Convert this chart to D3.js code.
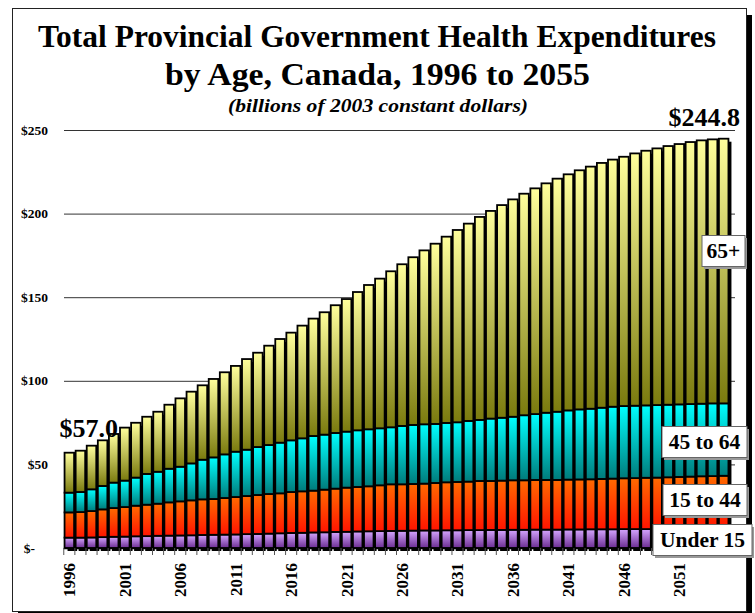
<!DOCTYPE html>
<html><head><meta charset="utf-8">
<script src="https://cdn.jsdelivr.net/npm/d3@7"></script>
<style>
html,body{margin:0;padding:0;background:#fff;}
svg{display:block;font-family:"Liberation Serif","Times New Roman",serif;}
</style></head>
<body>
<svg id="chart" width="755" height="613"></svg>
<script>
const years = [1996,1997,1998,1999,2000,2001,2002,2003,2004,2005,2006,2007,2008,2009,2010,2011,2012,2013,2014,2015,
2016,2017,2018,2019,2020,2021,2022,2023,2024,2025,2026,2027,2028,2029,2030,2031,2032,2033,2034,2035,
2036,2037,2038,2039,2040,2041,2042,2043,2044,2045,2046,2047,2048,2049,2050,2051,2052,2053,2054,2055];

const under15 = [6.2,6.2,6.3,6.5,6.7,6.8,7.0,7.1,7.3,7.4,7.5,7.6,7.8,7.9,8.0,8.1,8.3,8.4,8.6,8.8,
9.0,9.1,9.3,9.4,9.6,9.7,9.9,10.0,10.1,10.2,10.3,10.4,10.5,10.5,10.6,10.6,10.7,10.7,10.8,10.8,
10.9,10.9,11.0,11.0,11.0,11.1,11.1,11.2,11.2,11.2,11.3,11.3,11.3,11.4,11.4,11.4,11.4,11.5,11.5,11.5];

const age15to44 = [15.1,15.3,15.8,16.6,17.2,17.7,18.3,18.8,19.2,19.9,20.4,20.9,21.3,21.4,21.9,22.4,22.8,23.3,23.7,23.9,
24.5,24.8,25.0,25.5,25.9,26.4,26.6,26.9,27.4,27.9,27.8,27.9,28.0,28.4,28.7,28.9,29.0,29.4,29.3,29.5,
29.6,29.6,29.7,29.7,29.7,29.8,29.9,29.9,30.1,30.3,30.4,30.5,30.7,30.7,30.9,31.1,31.3,31.4,31.5,31.7];

const age45to64 = [11.8,12.0,13.0,14.0,15.2,15.8,16.8,18.4,19.1,20.1,20.7,22.1,23.7,24.9,26.1,27.1,27.7,28.7,29.3,30.3,
30.9,31.7,32.7,32.9,33.3,33.5,33.9,34.1,34.1,34.1,34.9,35.3,35.5,35.3,35.5,35.7,36.3,36.5,37.3,37.6,
38.0,38.9,39.4,40.2,40.8,41.4,41.9,42.2,42.6,43.0,43.2,43.3,43.3,43.4,43.4,43.4,43.4,43.4,43.5,43.3];

const age65plus = [23.9,24.7,26.1,27.3,29.1,31.7,32.8,34.2,35.9,38.3,40.9,42.9,44.5,46.9,49.1,51.3,54.2,56.4,59.4,62.0,
64.4,67.4,70.2,73.2,76.4,79.3,82.7,86.3,89.5,93.3,96.7,100.3,104.0,107.8,111.4,115.0,118.0,121.4,124.2,127.2,
130.0,132.5,135.0,137.2,139.4,141.2,143.0,144.8,146.4,147.8,149.1,150.9,152.3,153.5,154.7,155.7,156.7,157.5,157.9,158.3];

const seriesNames = ["Under 15","15 to 44","45 to 64","65+"];
const yTickValues = [0,50,100,150,200,250];
const yTickLabels = ["$-","$50","$100","$150","$200","$250"];
const xTickLabels = ["1996","2001","2006","2011","2016","2021","2026","2031","2036","2041","2046","2051"];
const firstLabel = "$57.0";
const lastLabel = "$244.8";

const svg = d3.select("#chart");

const keys = ["u15","a1544","a4564","a65"];
const table = years.map((yr,i)=>({year:yr,u15:under15[i],a1544:age15to44[i],a4564:age45to64[i],a65:age65plus[i]}));
const stacked = d3.stack().keys(keys)(table);

const x = d3.scaleBand().domain(years).range([64,729]).paddingInner(0.14).paddingOuter(0.05);
const y = d3.scaleLinear().domain([0,250]).range([548,130]);

const defs = svg.append("defs");
const grads = [
  {id:"g0", top:"#D6A6FF", bot:"#6A2C91"},
  {id:"g1", top:"#FF6A00", bot:"#FF1400"},
  {id:"g2", top:"#00FFFF", bot:"#007B7B"},
  {id:"g3", top:"#FFFF9C", bot:"#7A7A0E"}
];
grads.forEach(g=>{
  const lg = defs.append("linearGradient").attr("id",g.id).attr("x1",0).attr("y1",0).attr("x2",0).attr("y2",1);
  lg.append("stop").attr("offset","0%").attr("stop-color",g.top);
  lg.append("stop").attr("offset","100%").attr("stop-color",g.bot);
});

// frame with shadow
svg.append("rect").attr("x",18).attr("y",15).attr("width",734).attr("height",602).attr("fill","#000");
svg.append("rect").attr("x",12.5).attr("y",8.5).attr("width",734).attr("height",603)
  .attr("fill","#fff").attr("stroke","#222").attr("stroke-width",1);

// gridlines
svg.append("g").selectAll("line").data(yTickValues.filter(v=>v>0)).join("line")
  .attr("x1",64).attr("x2",735).attr("y1",d=>y(d)+0.5).attr("y2",d=>y(d)+0.5)
  .attr("stroke","#333").attr("stroke-width",1);

// y labels
svg.append("g").selectAll("text").data(yTickValues).join("text")
  .attr("x",d=> d===0 ? 35 : 48)
  .attr("y",d=>y(d)+4.5)
  .attr("text-anchor","end")
  .attr("font-size",13.5).attr("font-weight","bold")
  .text((d,i)=>yTickLabels[i]);

// shadows behind bars
const totals = years.map((yr,i)=>under15[i]+age15to44[i]+age45to64[i]+age65plus[i]);
svg.append("g").selectAll("rect").data(years).join("rect")
  .attr("x",d=>x(d)+3).attr("width",x.bandwidth())
  .attr("y",(d,i)=>y(totals[i])+3).attr("height",(d,i)=>y(0)-y(totals[i]))
  .attr("fill","#000");

// bars
svg.append("g").selectAll("g").data(stacked).join("g")
  .attr("fill",(d,i)=>`url(#g${i})`)
  .selectAll("rect").data(d=>d).join("rect")
  .attr("x",d=>x(d.data.year)).attr("width",x.bandwidth())
  .attr("y",d=>y(d[1])).attr("height",d=>y(d[0])-y(d[1]))
  .attr("stroke","#000").attr("stroke-width",1.8);

// x axis baseline and ticks
const tickXs = years.map(yr=>x(yr)-x.step()*x.paddingInner()/2);
tickXs.push(x(years[years.length-1])+x.bandwidth()+x.step()*x.paddingInner()/2);
svg.append("line").attr("x1",tickXs[0]).attr("x2",tickXs[tickXs.length-1]).attr("y1",548.5).attr("y2",548.5)
  .attr("stroke","#000").attr("stroke-width",1.5);
svg.append("g").selectAll("line").data(tickXs).join("line")
  .attr("x1",d=>d).attr("x2",d=>d).attr("y1",548).attr("y2",555)
  .attr("stroke","#555").attr("stroke-width",1);

// x labels
svg.append("g").selectAll("text").data(xTickLabels).join("text")
  .attr("transform",d=>`translate(${x(+d)+x.bandwidth()/2+6},563) rotate(-90)`)
  .attr("text-anchor","end")
  .attr("font-size",17).attr("font-weight","bold")
  .text(d=>d);

// titles
svg.append("text").attr("x",377).attr("y",47).attr("text-anchor","middle")
  .attr("font-size",32).attr("font-weight","bold")
  .attr("textLength",678).attr("lengthAdjust","spacingAndGlyphs")
  .text("Total Provincial Government Health Expenditures");
svg.append("text").attr("x",377.5).attr("y",85).attr("text-anchor","middle")
  .attr("font-size",32).attr("font-weight","bold")
  .attr("textLength",425).attr("lengthAdjust","spacingAndGlyphs")
  .text("by Age, Canada, 1996 to 2055");
svg.append("text").attr("x",378).attr("y",112).attr("text-anchor","middle")
  .attr("font-size",18).attr("font-weight","bold").attr("font-style","italic")
  .attr("textLength",300).attr("lengthAdjust","spacingAndGlyphs")
  .text("(billions of 2003 constant dollars)");

// value annotations
svg.append("text").attr("x",x(years[0])-5).attr("y",y(totals[0])-16)
  .attr("font-size",26).attr("font-weight","bold").text(firstLabel);
svg.append("text").attr("x",740).attr("y",y(totals[totals.length-1])-13).attr("text-anchor","end")
  .attr("font-size",26).attr("font-weight","bold").text(lastLabel);

// series labels (boxes)
const boxes = [
  {name:seriesNames[3], right:745, w:43, cy:251},
  {name:seriesNames[2], right:747, w:85, cy:442},
  {name:seriesNames[1], right:747, w:84, cy:500},
  {name:seriesNames[0], right:752, w:99, cy:540}
];
const lg = svg.append("g");
boxes.forEach(b=>{
  lg.append("rect").attr("x",b.right-b.w+2).attr("y",b.cy-15+2).attr("width",b.w).attr("height",31).attr("fill","#999");
  lg.append("rect").attr("x",b.right-b.w).attr("y",b.cy-15.5).attr("width",b.w).attr("height",31)
    .attr("fill","#fff").attr("stroke","#666").attr("stroke-width",1);
  lg.append("text").attr("x",b.right-b.w/2).attr("y",b.cy+7).attr("text-anchor","middle")
    .attr("font-size",21.5).attr("font-weight","bold").text(b.name);
});
</script>
</body></html>
